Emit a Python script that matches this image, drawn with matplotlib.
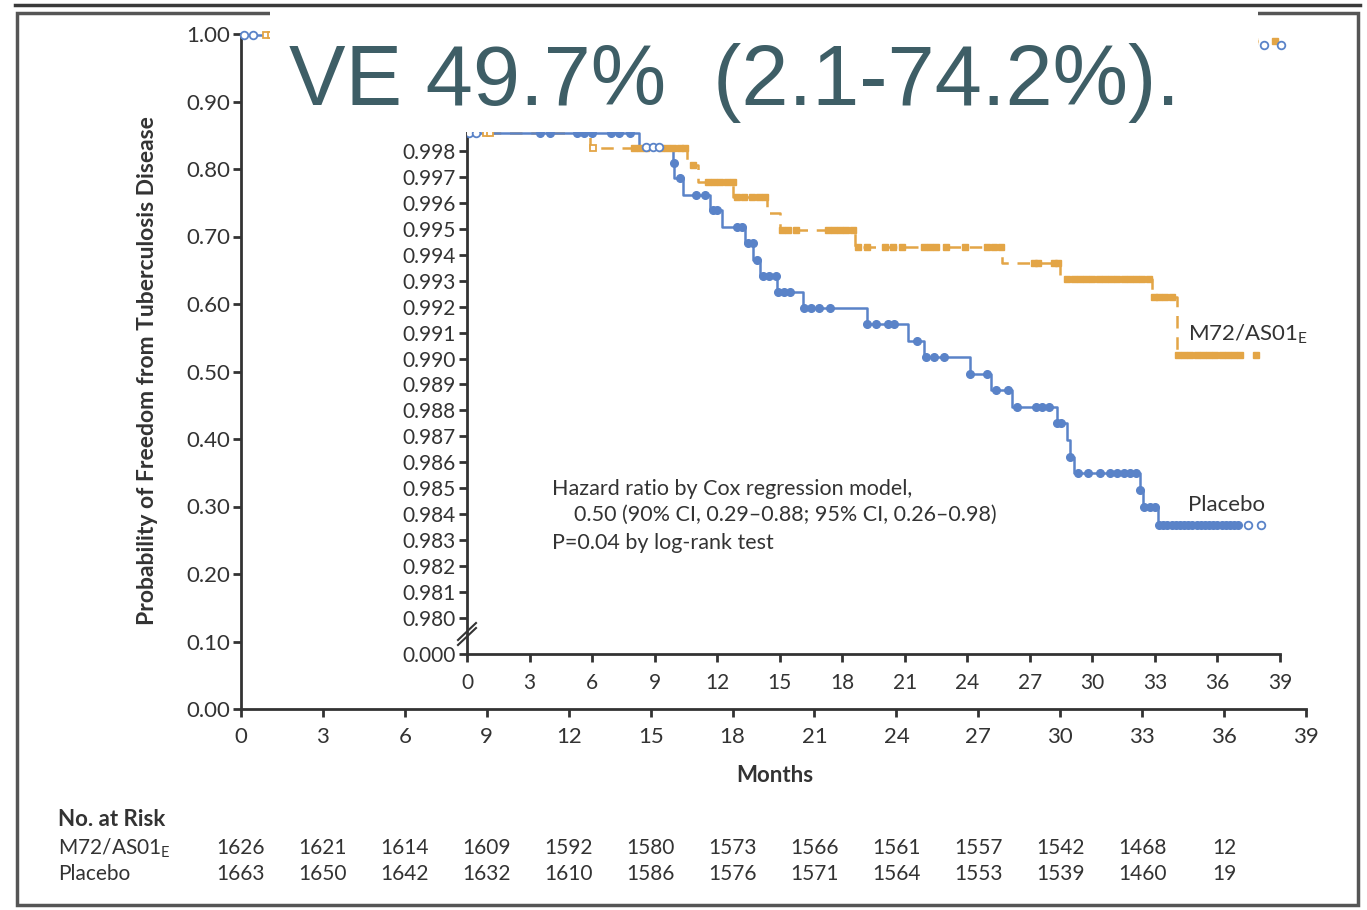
import numpy as np
import matplotlib.pyplot as plt
import matplotlib.transforms as mtransforms
from matplotlib.lines import Line2D
from matplotlib.patches import Rectangle

plt.rcParams['font.family'] = ['Lato', 'DejaVu Sans']

W, H = 1367, 910
def fx(px): return px / W
def fy(py): return 1 - py / H

BLUE = '#5A83C8'
ORANGE = '#E3A546'
INK = '#333333'

# ---- data (months, survival) ----
vac_t = [0, 5.90, 10.54, 11.10, 12.78, 14.38, 15.02, 18.62, 25.65, 28.45, 32.85, 34.04]
vac_s = [0.99869, 0.99810, 0.99746, 0.99682, 0.99621, 0.99560, 0.99495, 0.99431,
         0.99369, 0.99307, 0.99238, 0.99014]
vac_end = 37.24
vac_cens = [8.0, 8.3, 8.6, 9.3, 9.6, 9.9, 10.2, 10.45, 10.85,
            11.55, 11.85, 12.15, 12.45, 12.75, 12.95, 13.3, 13.65, 14.0, 14.3,
            15.1, 15.4, 15.8, 17.3, 17.6, 17.9, 18.2, 18.5,
            18.75, 19.2, 20.05, 20.45, 20.85, 21.9, 22.2, 22.5, 23.0, 23.9, 24.95, 25.3, 25.6,
            27.2, 27.4, 28.15, 28.35,
            28.8, 29.1, 29.4, 29.7, 30.0, 30.3, 30.6, 30.9, 31.2, 31.5, 31.8, 32.1, 32.4, 32.7,
            32.95, 33.2, 33.5, 33.8,
            34.1, 34.4, 34.7, 35.0, 35.3, 35.6, 35.9, 36.2, 36.5, 36.8, 37.1, 37.85]
vac_cens_open = [0.9, 1.1, 6.05]

pla_t = [0, 8.27, 9.90, 9.95, 10.38, 11.66, 12.22, 13.34, 13.74, 14.06, 14.86, 16.13,
         19.17, 21.17, 21.92, 24.13, 25.12, 26.12, 28.28, 28.76, 28.93, 29.12, 32.28,
         32.44, 33.16]
pla_s = [0.99869, 0.99814, 0.99753, 0.99695, 0.99630, 0.99573, 0.99506, 0.99444,
         0.99380, 0.99319, 0.99258, 0.99196, 0.99133, 0.99069, 0.99005, 0.98940,
         0.98879, 0.98814, 0.98750, 0.98686, 0.98622, 0.98558, 0.98493, 0.98426, 0.98358]
pla_end = 37.08
pla_cens = [3.5, 4.0, 5.3, 5.6, 6.0, 6.9, 7.3, 7.8,
            9.92, 10.2, 11.0, 11.4, 11.8, 12.0, 12.96, 13.2, 13.5, 13.7, 13.93,
            14.2, 14.5, 14.8, 14.9, 15.2, 15.5, 16.15, 16.5, 16.9, 17.4,
            19.2, 19.6, 20.2, 20.5, 21.6, 22.0, 22.4, 22.9, 24.15, 24.95, 25.4, 25.95,
            26.4, 27.3, 27.6, 27.9, 28.3, 28.5, 28.95,
            29.3, 29.8, 30.35, 30.85, 31.2, 31.5, 31.8, 32.1, 32.3, 32.5, 32.75, 33.0,
            33.2, 33.4, 33.6, 33.8, 34.0, 34.2, 34.4, 34.6, 34.8, 35.0, 35.2, 35.4,
            35.6, 35.8, 36.0, 36.2, 36.4, 36.6, 36.8, 37.0]
pla_cens_open = [0.1, 0.45, 8.6, 8.9, 9.2, 37.48, 38.08]

risk_times = [0, 3, 6, 9, 12, 15, 18, 21, 24, 27, 30, 33, 36]
risk_vac = [1626, 1621, 1614, 1609, 1592, 1580, 1573, 1566, 1561, 1557, 1542, 1468, 12]
risk_pla = [1663, 1650, 1642, 1632, 1610, 1586, 1576, 1571, 1564, 1553, 1539, 1460, 19]

x_ticks = list(range(0, 40, 3))
main_yticks = [0.0, 0.1, 0.2, 0.3, 0.4, 0.5, 0.6, 0.7, 0.8, 0.9, 1.0]
inset_yticks = [0.980, 0.981, 0.982, 0.983, 0.984, 0.985, 0.986, 0.987, 0.988, 0.989,
                0.990, 0.991, 0.992, 0.993, 0.994, 0.995, 0.996, 0.997, 0.998]
inset_bottom, inset_top = 0.978612, 0.998732

hr_lines = ['Hazard ratio by Cox regression model,',
            '0.50 (90% CI, 0.29\u20130.88; 95% CI, 0.26\u20130.98)',
            'P=0.04 by log-rank test']


def surv_at(t, s, x):
    idx = np.searchsorted(t, x, side='right') - 1
    return np.asarray(s)[idx]


def draw_km(ax, t, s, end, cens, cens_open, color, marker, dashed, clip):
    xs = list(t) + [end]
    ys = list(s) + [s[-1]]
    kw = dict(color=color, lw=1.8, clip_on=clip, zorder=3)
    if dashed:
        kw['dashes'] = (5, 3.5)
    ax.step(xs, ys, where='post', **kw)
    ms = 5.5 if marker == 'o' else 5
    ax.plot(cens, surv_at(t, s, cens), marker, ls='none', color=color, ms=ms,
            mec=color, clip_on=clip, zorder=4)
    ax.plot(cens_open, surv_at(t, s, cens_open), marker, ls='none', mfc='white',
            mec=color, mew=1.3, ms=ms, clip_on=clip, zorder=4)


def style_axes(a, labelsize):
    for side in ['top', 'right']:
        a.spines[side].set_visible(False)
    for side in ['left', 'bottom']:
        a.spines[side].set_linewidth(2)
        a.spines[side].set_color(INK)
    a.tick_params(direction='out', length=6, width=2, colors=INK,
                  labelsize=labelsize, pad=2)
    a.patch.set_alpha(0)


fig = plt.figure(figsize=(W / 100, H / 100), dpi=100)

# ---- main axes ----
ax = fig.add_axes([fx(241), fy(709), fx(1306) - fx(241), fy(34) - fy(709)])
draw_km(ax, vac_t, vac_s, vac_end, vac_cens, vac_cens_open, ORANGE, 's', True, False)
draw_km(ax, pla_t, pla_s, pla_end, pla_cens, pla_cens_open, BLUE, 'o', False, False)
ax.set_xlim(0, 39)
ax.set_ylim(0, 1.0)
ax.set_xticks(x_ticks)
ax.set_yticks(main_yticks)
ax.set_yticklabels(['%.2f' % v for v in main_yticks])
style_axes(ax, 16)
ax.tick_params(axis='x', pad=7)

# ---- inset (zoomed) axes ----
ai = fig.add_axes([fx(467), fy(654), fx(1280) - fx(467), fy(132) - fy(654)])
draw_km(ai, vac_t, vac_s, vac_end, vac_cens, vac_cens_open, ORANGE, 's', True, True)
draw_km(ai, pla_t, pla_s, pla_end, pla_cens, pla_cens_open, BLUE, 'o', False, True)
ai.set_xlim(0, 39)
ai.set_ylim(inset_bottom, inset_top)
ai.set_xticks(x_ticks)
ai.set_yticks([inset_bottom] + inset_yticks)
ai.set_yticklabels(['0.000'] + ['%.3f' % v for v in inset_yticks])
style_axes(ai, 15)
ai.tick_params(axis='x', pad=8)

fig.text(fx(552), fy(489), hr_lines[0], fontsize=15.5, color=INK, va='center')
fig.text(fx(574), fy(515), hr_lines[1], fontsize=15.5, color=INK, va='center')
fig.text(fx(552), fy(543), hr_lines[2], fontsize=15.5, color=INK, va='center')

ai.text(34.6, surv_at(vac_t, vac_s, [36.0])[0] + 0.00078, 'M72/AS01$_{\\mathregular{E}}$',
        fontsize=16, color=INK, va='center')
ai.text(34.6, surv_at(pla_t, pla_s, [36.0])[0] + 0.00076, 'Placebo',
        fontsize=16, color=INK, va='center')

# break marks on inset y axis
for dy in (0, 5):
    fig.add_artist(Line2D([fx(458), fx(476)], [fy(645 - dy), fy(628 - dy)],
                          color=INK, lw=1.5))

# ---- axis titles ----
fig.text(fx(775), fy(776), 'Months', fontsize=16, fontweight='bold', color=INK,
         ha='center', va='center')
fig.text(fx(148), fy(371), 'Probability of Freedom from Tuberculosis Disease', fontsize=16.5,
         fontweight='bold', color=INK, ha='center', va='center', rotation=90)

# ---- numbers at risk ----
tr = mtransforms.blended_transform_factory(ax.transData, fig.transFigure)
fig.text(fx(58), fy(819), 'No. at Risk', fontsize=16, fontweight='bold', color=INK,
         va='center')
fig.text(fx(58), fy(848), 'M72/AS01$_{\\mathregular{E}}$', fontsize=15, color=INK, va='center')
fig.text(fx(58), fy(874), 'Placebo', fontsize=15, color=INK, va='center')
for m, a, b in zip(risk_times, risk_vac, risk_pla):
    ax.text(m, fy(848), str(a), transform=tr, fontsize=15, color=INK, ha='center',
            va='center', clip_on=False)
    ax.text(m, fy(874), str(b), transform=tr, fontsize=15, color=INK, ha='center',
            va='center', clip_on=False)

# ---- page frame ----
fig.add_artist(Line2D([fx(15), fx(1360)], [fy(5), fy(5)], color='#3a3a3a', lw=2.5))
fig.add_artist(Rectangle((fx(17), fy(905)), fx(1358) - fx(17), fy(13) - fy(905),
                         transform=fig.transFigure, fill=False, ec='#555555', lw=2.5))

# ---- VE overlay ----
fig.add_artist(Rectangle((fx(270), fy(132)), fx(1258) - fx(270), fy(8) - fy(132),
                         transform=fig.transFigure, fc='white', ec='none', zorder=10))
fig.text(fx(289), fy(105), 'VE 49.7%  (2.1-74.2%).', fontsize=61, color='#3E5E66',
         family='Liberation Sans', va='baseline', ha='left', zorder=11)

fig.savefig('out.png', dpi=100, facecolor='white')
